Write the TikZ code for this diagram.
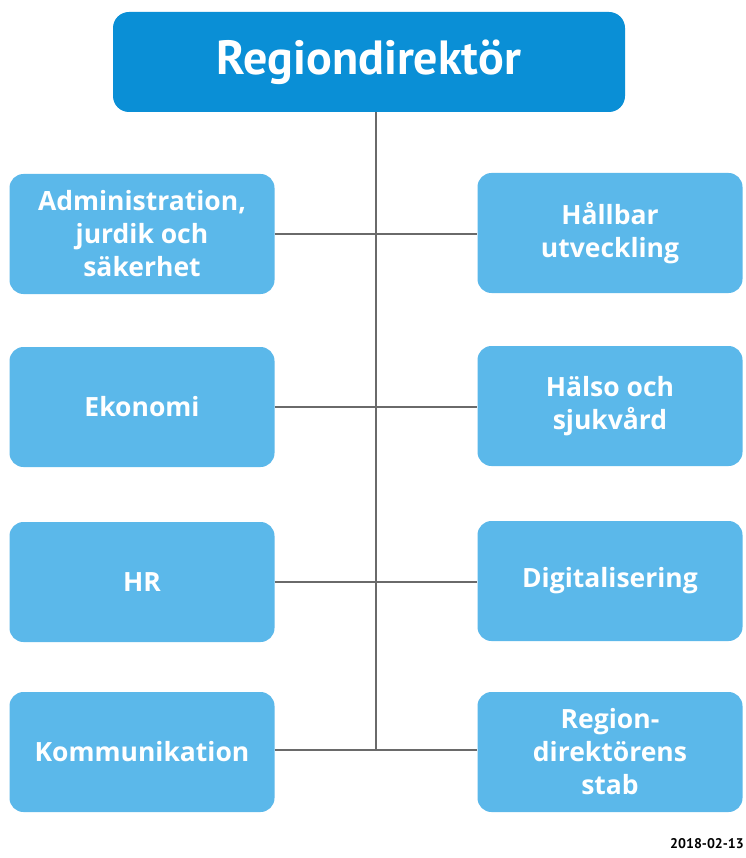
\documentclass[tikz,border=0pt]{standalone}
\usepackage{fontspec}
\setmainfont{Open Sans}
\newfontfamily\topfont{PT Sans}
\definecolor{topblue}{HTML}{0A8FD6}
\definecolor{subblue}{HTML}{5BB8EA}
\definecolor{linegray}{HTML}{6A6A6A}
\tikzset{
  topbox/.style={fill=topblue, rounded corners=16pt, minimum width=512pt, minimum height=100pt, text=white, font=\topfont\fontsize{48}{56}\selectfont\bfseries, inner sep=0pt},
  subbox/.style={fill=subblue, rounded corners=14pt, minimum width=265pt, minimum height=120pt, text=white, align=center, font=\fontsize{26.5}{33}\selectfont\bfseries, inner sep=0pt},
  conn/.style={draw=linegray, line width=2pt}
}
\begin{document}
\begin{tikzpicture}[x=1pt,y=-1pt]
\useasboundingbox (0,0) rectangle (745,858);
\fill[white] (0,0) rectangle (745,858);
\node[topbox] (top) at (369,62) {Regiondirektör};
\node[subbox] (L1) at (142,234) {Administration,\\jurdik och\\säkerhet};
\node[subbox] (L2) at (142,407) {Ekonomi};
\node[subbox] (L3) at (142,582) {HR};
\node[subbox] (L4) at (142,752) {Kommunikation};
\node[subbox] (R1) at (610,233) {Hållbar\\utveckling};
\node[subbox] (R2) at (610,406) {Hälso och\\sjukvård};
\node[subbox] (R3) at (610,581) {Digitalisering};
\node[subbox] (R4) at (610,752) {Region-\\direktörens\\stab};
\coordinate (sp) at (376,750);
\draw[conn] (top.south -| sp) -- (sp);
\draw[conn] (L1.east) -- (R1.west |- L1.east);
\draw[conn] (L2.east) -- (R2.west |- L2.east);
\draw[conn] (L3.east) -- (R3.west |- L3.east);
\draw[conn] (L4.east |- sp) -- (R4.west |- sp);
\node[anchor=base east, font=\topfont\fontsize{14}{16}\selectfont\bfseries, inner sep=0pt] (date) at (744,848) {2018-02-13};
\end{tikzpicture}
\end{document}
